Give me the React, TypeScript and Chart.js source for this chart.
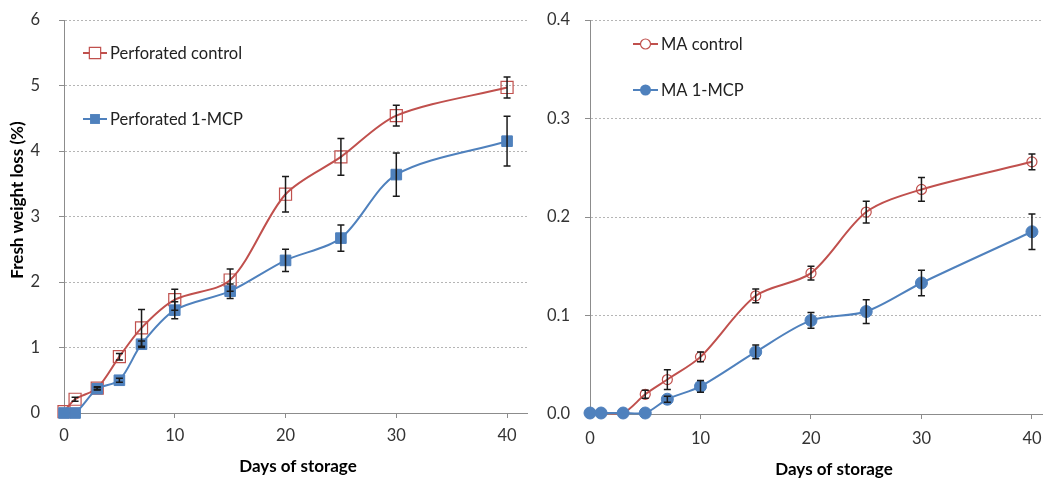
import React, { useEffect, useRef } from "react";
import { Chart, registerables } from "chart.js";
Chart.register(...registerables);

const FONT = "Lato, 'Open Sans', sans-serif";
const RED = "#C0504D";
const BLUE = "#4F81BD";

// ---- data ----
const days = [0, 1, 3, 5, 7, 10, 15, 20, 25, 30, 40];
const xTicks = [0, 10, 20, 30, 40];

const perfControl = [0.02, 0.21, 0.38, 0.86, 1.3, 1.73, 2.03, 3.34, 3.91, 4.54, 4.97];
const perfControlErr = [0, 0.03, 0.02, 0.05, 0.28, 0.16, 0.17, 0.27, 0.28, 0.16, 0.16];
const perf1MCP = [0, 0, 0.37, 0.5, 1.05, 1.57, 1.86, 2.33, 2.67, 3.64, 4.15];
const perf1MCPErr = [0, 0, 0.02, 0.03, 0.05, 0.13, 0.11, 0.17, 0.2, 0.33, 0.38];

const maControl = [0.001, 0.001, 0.001, 0.02, 0.035, 0.058, 0.12, 0.143, 0.205, 0.228, 0.256];
const maControlErr = [0, 0, 0, 0.004, 0.01, 0.005, 0.007, 0.007, 0.011, 0.012, 0.008];
const ma1MCP = [0.001, 0.001, 0.001, 0.001, 0.015, 0.028, 0.063, 0.095, 0.104, 0.133, 0.185];
const ma1MCPErr = [0, 0, 0, 0, 0.003, 0.006, 0.007, 0.008, 0.012, 0.013, 0.018];

const leftYTicks = [0, 1, 2, 3, 4, 5, 6];
const rightYTicks = [0, 0.1, 0.2, 0.3, 0.4];

const xTitle = "Days of storage";
const yTitle = "Fresh weight loss (%)";

type LegendItem = { label: string; color: string; style: string; fill: boolean; radius: number };

const errorBars = {
  id: "errorBars",
  afterDatasetsDraw(chart: any) {
    const ctx = chart.ctx;
    const ys = chart.scales.y;
    chart.data.datasets.forEach((ds: any, i: number) => {
      const errs = ds.errors;
      if (!errs) return;
      const meta = chart.getDatasetMeta(i);
      meta.data.forEach((pt: any, j: number) => {
        const e = errs[j];
        if (!e) return;
        const v = ds.data[j].y;
        const x = pt.x;
        const y1 = ys.getPixelForValue(v + e);
        const y2 = ys.getPixelForValue(v - e);
        ctx.save();
        ctx.strokeStyle = "#1a1a1a";
        ctx.lineWidth = 1.5;
        ctx.beginPath();
        ctx.moveTo(x, y1);
        ctx.lineTo(x, y2);
        ctx.moveTo(x - 3.5, y1);
        ctx.lineTo(x + 3.5, y1);
        ctx.moveTo(x - 3.5, y2);
        ctx.lineTo(x + 3.5, y2);
        ctx.stroke();
        ctx.restore();
      });
    });
  },
};

function makeDecor(
  legend: { x1: number; x2: number; ys: number[]; items: LegendItem[] },
  xt: { x: number; y: number },
  yt: { x: number; y: number } | null
) {
  return {
    id: "decor",
    afterDraw(chart: any) {
      const ctx = chart.ctx;
      ctx.save();
      legend.items.forEach((it, k) => {
        const y = legend.ys[k];
        ctx.strokeStyle = it.color;
        ctx.lineWidth = 2;
        ctx.beginPath();
        ctx.moveTo(legend.x1, y);
        ctx.lineTo(legend.x2, y);
        ctx.stroke();
        const cx = (legend.x1 + legend.x2) / 2;
        ctx.beginPath();
        if (it.style === "rect") {
          const s = it.radius * Math.SQRT1_2;
          ctx.rect(cx - s, y - s, 2 * s, 2 * s);
        } else {
          ctx.arc(cx, y, it.radius, 0, Math.PI * 2);
        }
        if (it.fill) {
          ctx.fillStyle = it.color;
          ctx.fill();
        } else {
          ctx.fillStyle = "#fff";
          ctx.fill();
          ctx.lineWidth = 1.2;
          ctx.stroke();
        }
        ctx.fillStyle = "#222";
        ctx.font = `16.5px ${FONT}`;
        ctx.textAlign = "left";
        ctx.textBaseline = "middle";
        ctx.fillText(it.label, legend.x2 + 3, y + 1);
      });
      ctx.fillStyle = "#000";
      ctx.font = `bold 17px ${FONT}`;
      ctx.textAlign = "center";
      ctx.textBaseline = "middle";
      ctx.fillText(xTitle, xt.x, xt.y);
      if (yt) {
        ctx.translate(yt.x, yt.y);
        ctx.rotate(-Math.PI / 2);
        ctx.fillText(yTitle, 0, 0);
      }
      ctx.restore();
    },
  };
}

function ds(label: string, vals: number[], errs: number[], color: string, style: string, fill: boolean, radius: number, order: number) {
  return {
    label,
    data: days.map((d, i) => ({ x: d, y: vals[i] })),
    errors: errs,
    borderColor: color,
    borderWidth: 2,
    backgroundColor: fill ? color : "rgba(255,255,255,0)",
    pointStyle: style,
    pointRadius: radius,
    pointBorderWidth: fill ? 1 : 1.2,
    pointBorderColor: color,
    pointBackgroundColor: fill ? color : "rgba(255,255,255,0)",
    tension: 0.3,
    order,
    clip: false,
  };
}

function buildConfig(opts: {
  datasets: any[];
  xMax: number;
  yTicks: number[];
  yAxisWidth: number;
  xAxisHeight: number;
  yPad: number;
  xPad: number;
  rightPad: number;
  fmt: (v: number) => string;
  decor: any;
}) {
  const yMin = opts.yTicks[0];
  const yMax = opts.yTicks[opts.yTicks.length - 1];
  return {
    type: "line",
    data: { datasets: opts.datasets },
    plugins: [errorBars, opts.decor],
    options: {
      animation: false,
      responsive: false,
      maintainAspectRatio: false,
      layout: { autoPadding: false, padding: { top: 20, right: opts.rightPad, left: 0, bottom: 0 } },
      plugins: { legend: { display: false }, tooltip: { enabled: false }, title: { display: false } },
      scales: {
        x: {
          type: "linear",
          min: 0,
          max: opts.xMax,
          afterBuildTicks: (axis: any) => {
            axis.ticks = xTicks.map((v) => ({ value: v }));
          },
          afterFit: (axis: any) => {
            axis.height = opts.xAxisHeight;
            axis.paddingLeft = 0;
            axis.paddingRight = 0;
          },
          ticks: { color: "#333", font: { family: FONT, size: 16.5 }, padding: opts.xPad, includeBounds: false, maxRotation: 0 },
          grid: { drawOnChartArea: false, drawTicks: true, tickLength: 5, tickColor: "#8c8c8c" },
          border: { display: true, color: "#8c8c8c", width: 1 },
        },
        y: {
          type: "linear",
          min: yMin,
          max: yMax,
          afterBuildTicks: (axis: any) => {
            axis.ticks = opts.yTicks.map((v) => ({ value: v }));
          },
          afterFit: (axis: any) => {
            axis.width = opts.yAxisWidth;
            axis.paddingTop = 0;
            axis.paddingBottom = 0;
          },
          ticks: { color: "#333", font: { family: FONT, size: 16.5 }, padding: opts.yPad, callback: (v: any) => opts.fmt(Number(v)) },
          grid: { color: "#b5b5b5", lineWidth: 1, drawTicks: true, tickLength: 5, tickColor: "#8c8c8c" },
          border: { display: true, color: "#8c8c8c", width: 1, dash: [2, 2] },
        },
      },
    },
  };
}

function ChartCanvas({ config, width, height, left }: { config: any; width: number; height: number; left: number }) {
  const ref = useRef<HTMLCanvasElement | null>(null);
  useEffect(() => {
    if (!ref.current) return;
    const c = new Chart(ref.current, config);
    return () => c.destroy();
  }, []);
  return (
    <canvas
      ref={ref}
      width={width}
      height={height}
      style={{ position: "absolute", left, top: 0, width, height }}
    />
  );
}

export default function App() {
  const leftCfg = buildConfig({
    datasets: [
      ds("Perforated 1-MCP", perf1MCP, perf1MCPErr, BLUE, "rect", true, 7.5, 0),
      ds("Perforated control", perfControl, perfControlErr, RED, "rect", false, 8.5, 1),
    ],
    xMax: 41.8,
    yTicks: leftYTicks,
    yAxisWidth: 64,
    xAxisHeight: 67,
    yPad: 19,
    xPad: 8,
    rightPad: 1,
    fmt: (v) => String(v),
    decor: makeDecor(
      {
        x1: 83,
        x2: 107,
        ys: [53, 119],
        items: [
          { label: "Perforated control", color: RED, style: "rect", fill: false, radius: 8 },
          { label: "Perforated 1-MCP", color: BLUE, style: "rect", fill: true, radius: 7 },
        ],
      },
      { x: 298, y: 467 },
      { x: 18, y: 200 }
    ),
  });

  const rightCfg = buildConfig({
    datasets: [
      ds("MA 1-MCP", ma1MCP, ma1MCPErr, BLUE, "circle", true, 6, 0),
      ds("MA control", maControl, maControlErr, RED, "circle", false, 5, 1),
    ],
    xMax: 41,
    yTicks: rightYTicks,
    yAxisWidth: 70,
    xAxisHeight: 66,
    yPad: 15,
    xPad: 10,
    rightPad: 0,
    fmt: (v) => v.toFixed(1),
    decor: makeDecor(
      {
        x1: 113,
        x2: 138,
        ys: [44, 90],
        items: [
          { label: "MA control", color: RED, style: "circle", fill: false, radius: 5 },
          { label: "MA 1-MCP", color: BLUE, style: "circle", fill: true, radius: 5.5 },
        ],
      },
      { x: 314, y: 470 },
      null
    ),
  });

  return (
    <div style={{ position: "fixed", left: 0, top: 0, width: 1043, height: 480, background: "#fff" }}>
      <ChartCanvas config={leftCfg} width={528} height={480} left={0} />
      <ChartCanvas config={rightCfg} width={523} height={480} left={520} />
    </div>
  );
}
